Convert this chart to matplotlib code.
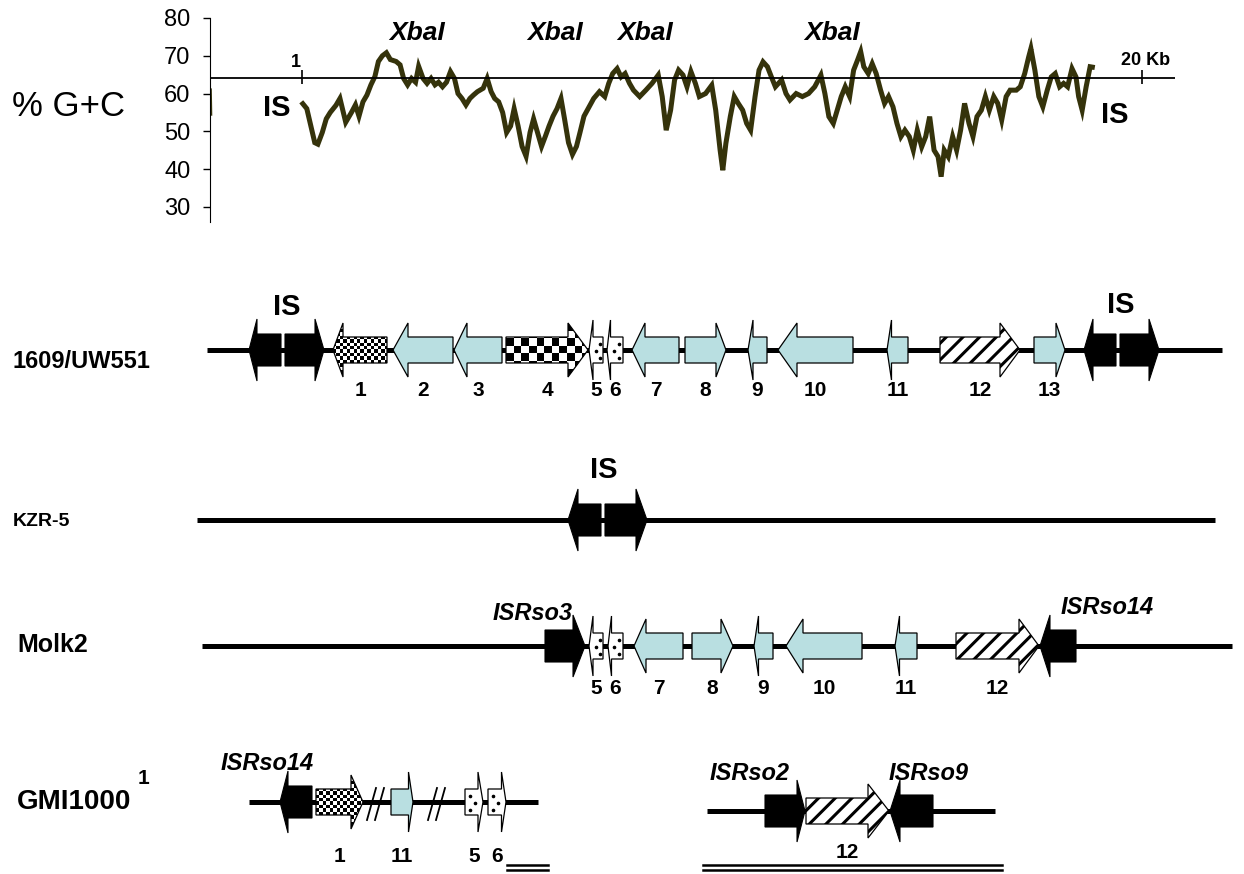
import numpy as np
import matplotlib
matplotlib.use('Agg')
import matplotlib.pyplot as plt
from matplotlib.patches import Polygon

plt.rcParams['font.family'] = ['Liberation Sans', 'DejaVu Sans']
plt.rcParams['hatch.linewidth'] = 2.2

# %G+C profile along the island (position in kb, %G+C)
gc_kb = [1.02, 1.11, 1.20, 1.29, 1.36, 1.46, 1.55, 1.64, 1.77, 1.86,
         1.99, 2.12, 2.21, 2.29, 2.38, 2.47, 2.56, 2.65, 2.73, 2.82,
         2.91, 3.00, 3.13, 3.22, 3.30, 3.39, 3.48, 3.57, 3.64, 3.74,
         3.83, 3.92, 4.01, 4.09, 4.18, 4.27, 4.36, 4.45, 4.53, 4.62,
         4.71, 4.80, 4.88, 4.97, 5.10, 5.19, 5.28, 5.36, 5.45, 5.54,
         5.63, 5.72, 5.80, 5.89, 5.98, 6.07, 6.16, 6.24, 6.33, 6.42,
         6.51, 6.59, 6.68, 6.77, 6.86, 6.94, 7.03, 7.12, 7.21, 7.29,
         7.38, 7.52, 7.60, 7.73,
         7.85, 7.94, 8.03, 8.13, 8.22, 8.31, 8.41, 8.50, 8.64, 8.78,
         8.92, 9.06, 9.15, 9.24, 9.34, 9.43, 9.52, 9.62, 9.71, 9.80,
         9.90, 9.99, 10.13, 10.27, 10.36, 10.46, 10.52, 10.59, 10.69, 10.78,
         10.87, 10.97, 11.06, 11.15, 11.25, 11.34, 11.43, 11.53, 11.62, 11.71,
         11.85, 11.95, 12.04, 12.18, 12.32, 12.46, 12.60, 12.74, 12.83, 12.92,
         13.02, 13.11, 13.20, 13.29, 13.39, 13.48, 13.57, 13.64, 13.71, 13.81,
         13.90, 13.99, 14.09, 14.18, 14.27, 14.37, 14.46, 14.55, 14.64, 14.74,
         14.83, 14.92, 15.02, 15.11, 15.20, 15.30, 15.39, 15.46, 15.53, 15.62,
         15.72, 15.81, 15.90, 15.99, 16.09, 16.18, 16.27, 16.37, 16.46, 16.55,
         16.65, 16.74, 16.83, 16.93, 17.02, 17.16, 17.25, 17.35, 17.44, 17.49,
         17.58, 17.67, 17.76, 17.86, 17.95, 18.04, 18.14, 18.23, 18.32, 18.42,
         18.51, 18.57, 18.65, 18.74, 18.83, 18.88]
gc_pct = [57.3, 56, 51.5, 47, 46.6, 49.7, 53.3, 55, 56.9, 58.7,
          52.4, 55, 57, 54, 57.8, 59.6, 62.3, 64.5, 68.5, 70,
          70.8, 69, 68.5, 67.6, 64, 62.3, 64, 63, 67.2, 64,
          62.7, 64, 62.3, 63, 61.8, 63, 65.8, 64, 60, 58.7,
          57, 58.7, 59.6, 60.5, 61.4, 64, 60.5, 58.7, 57.8, 55,
          49.7, 51.4, 56, 51.4, 46, 43.4, 49.7, 53.3, 49.7, 46,
          48.8, 51.4, 54, 56, 58.7, 53.3, 47, 43.9, 46, 49.7,
          54, 57, 58.7, 60.5,
          59.2, 62.7, 65.3, 66.6, 64.4, 65.3, 62.7, 60.9, 59.2, 60.9,
          62.7, 64.9, 59.2, 50.3, 55.6, 63.6, 66.2, 64.9, 61.8, 65.8,
          62.7, 59.2, 60, 62.2, 55.6, 45, 39.7, 46.8, 53.9, 59.2,
          57.4, 55.6, 52.1, 50.3, 59.2, 66.2, 68.4, 67.1, 64.4, 61.8,
          63.6, 60, 58.3, 60, 59.2, 60, 61.8, 64.9, 60, 53.9,
          52.1, 55.6, 59.2, 61.8, 59.2, 66.2, 68.9, 71.1, 67.1, 65.3,
          67.9, 65.3, 60.9, 57.4, 59.2, 56.5, 52.1, 48.6, 50.3, 48.6,
          45, 50.3, 45.9, 48.6, 53.9, 45, 43.3, 38, 45, 43.3,
          48.6, 45, 50.3, 57.4, 52.1, 48.6, 53.9, 55.6, 59.2, 55.6,
          59.2, 57.4, 53, 59.2, 60.9, 60.9, 61.8, 65.3, 69.7, 71.9,
          66.2, 59.2, 56.5, 60.9, 64.4, 65.3, 61.8, 62.7, 61.8, 66.6,
          64.4, 59.2, 55.6, 61.8, 67.1, 67]
# flanking chromosome stub at the left edge
gc_flank_kb = [-1.07, -1.065, -1.06]
gc_flank_pct = [61, 58, 54.5]

genome_mean = 64
xba_kb = [3.6, 6.72, 8.76, 13.0]

# gene maps: left/right end (map units), strand, arrow head length, fill
uw_label = ['', '', '1', '2', '3', '4', '5', '6', '7', '8', '9', '10', '11', '12', '13', '', '']
uw_left = [249, 285, 333, 393, 454, 506, 589, 607, 632, 685, 748, 778, 887, 940, 1034, 1084, 1120]
uw_right = [281, 324, 387, 453, 502, 588, 603, 623, 679, 726, 767, 853, 908, 1020, 1065, 1116, 1159]
uw_strand = [-1, 1, -1, -1, -1, 1, -1, -1, -1, 1, -1, -1, -1, 1, 1, -1, 1]
uw_head = [8, 9, 10, 15, 13, 20, 4, 3.5, 13, 10, 5, 19, 4.5, 20, 9, 9, 10]
uw_kind = ['is', 'is', 'fine', 'blue', 'blue', 'checker', 'dots', 'dots', 'blue', 'blue',
           'blue', 'blue', 'blue', 'hatch', 'blue', 'is', 'is']

kzr_label = ['', '']
kzr_left = [568, 605]
kzr_right = [601, 647]
kzr_strand = [-1, 1]
kzr_head = [10, 11]
kzr_kind = ['is', 'is']

molk_label = ['', '5', '6', '7', '8', '9', '10', '11', '12', '']
molk_left = [545, 589, 608, 634, 692, 754, 786, 895, 956, 1040]
molk_right = [585, 603, 623, 683, 733, 773, 862, 917, 1039, 1076]
molk_strand = [1, -1, -1, -1, 1, -1, -1, -1, 1, -1]
molk_head = [12, 4, 3.5, 12, 12, 4.5, 17, 4.5, 20, 10]
molk_kind = ['is', 'dots', 'dots', 'blue', 'blue', 'blue', 'blue', 'blue', 'hatch', 'is']

gmi_a_label = ['', '1', '11', '5', '6']
gmi_a_left = [280, 316, 391, 465, 488]
gmi_a_right = [312, 363, 413, 483, 506]
gmi_a_strand = [-1, 1, 1, 1, 1]
gmi_a_head = [8, 12, 4.5, 5, 4.5]
gmi_a_kind = ['is', 'fine', 'blue', 'dots', 'dots']
gmi_breaks = [367, 428]

gmi_b_label = ['', '12', '']
gmi_b_left = [765, 806, 890]
gmi_b_right = [805, 889, 933]
gmi_b_strand = [1, 1, -1]
gmi_b_head = [8, 21, 10]
gmi_b_kind = ['is', 'hatch', 'is']

BLUE = '#b9dfe1'
BODY = {'is': 16, 'std': 13, 'small': 13}
HEAD = {'is': 31, 'std': 27, 'small': 30}


def arrow_xy(left, right, strand, head, y, size):
    hb, hh = BODY[size], HEAD[size]
    tail, tip = (left, right) if strand > 0 else (right, left)
    base = tip - strand * head
    return [(tail, y - hb), (base, y - hb), (base, y - hh), (tip, y),
            (base, y + hh), (base, y + hb), (tail, y + hb)]


def checker_fill(ax, patch, cell):
    xy = patch.get_xy()
    x0, y0 = xy.min(axis=0)
    x1, y1 = xy.max(axis=0)
    nx = int(np.ceil((x1 - x0) / cell))
    ny = int(np.ceil((y1 - y0) / cell))
    board = np.indices((ny, nx)).sum(axis=0) % 2
    im = ax.imshow(board, cmap='gray', vmin=0, vmax=1, interpolation='nearest',
                   extent=(x0, x0 + nx * cell, y0 + ny * cell, y0),
                   aspect='auto', zorder=3)
    im.set_clip_path(patch)


def draw_row(ax, y, x0, x1, labels, left, right, strand, head, kind, label_dy):
    ax.plot([x0, x1], [y, y], color='k', lw=3.6, solid_capstyle='butt', zorder=1)
    for lab, l, r, s, h, k in zip(labels, left, right, strand, head, kind):
        size = 'is' if k == 'is' else ('small' if h < 6 else 'std')
        xy = arrow_xy(l, r, s, h, y, size)
        if k == 'is':
            ax.add_patch(Polygon(xy, closed=True, fc='k', ec='k', lw=0.8, zorder=2))
        elif k in ('fine', 'checker'):
            base = Polygon(xy, closed=True, fc='white', ec='none', zorder=2)
            ax.add_patch(base)
            checker_fill(ax, base, 3.4 if k == 'fine' else 7.6)
            ax.add_patch(Polygon(xy, closed=True, fill=False, ec='k', lw=0.9, zorder=4))
        elif k == 'hatch':
            ax.add_patch(Polygon(xy, closed=True, fc='white', ec='k', lw=0.9,
                                 hatch='//', zorder=2))
        else:
            fc = BLUE if k == 'blue' else 'white'
            ax.add_patch(Polygon(xy, closed=True, fc=fc, ec='k', lw=0.9, zorder=2))
            if k == 'dots':
                tail, tip = (l, r) if s > 0 else (r, l)
                bx = tip - s * h
                fx = np.array([0.35, 0.75, 0.35])
                fy = np.array([-0.5, 0.1, 0.6])
                ax.plot(tail + (bx - tail) * fx, y + fy * BODY[size], 'o',
                        color='k', ms=1.6, zorder=3)
        if lab:
            ax.text((l + r) / 2, y + label_dy, lab, ha='center', va='center',
                    fontsize=15, fontweight='bold')


fig = plt.figure(figsize=(12.44, 8.74), dpi=100)

# gene maps, drawn in map units
mp = fig.add_axes([0, 0, 1, 1])
mp.axis('off')

draw_row(mp, 350, 207, 1222, uw_label, uw_left, uw_right, uw_strand, uw_head, uw_kind, 40)
draw_row(mp, 520, 197, 1215, kzr_label, kzr_left, kzr_right, kzr_strand, kzr_head, kzr_kind, 40)
draw_row(mp, 646, 202, 1232, molk_label, molk_left, molk_right, molk_strand, molk_head, molk_kind, 42)
draw_row(mp, 802, 249, 538, gmi_a_label, gmi_a_left, gmi_a_right, gmi_a_strand, gmi_a_head, gmi_a_kind, 54)
draw_row(mp, 811, 707, 995, gmi_b_label, gmi_b_left, gmi_b_right, gmi_b_strand, gmi_b_head, gmi_b_kind, 42)

# break marks on the GMI1000 chromosome segment
for bx in gmi_breaks:
    for dx in (0, 8):
        mp.plot([bx + dx, bx + dx + 9], [820, 788], color='k', lw=1.3, zorder=5)

# sequence extent bars under GMI1000
for yy in (865, 870):
    mp.plot([507, 548], [yy, yy], color='k', lw=1.8)
    mp.plot([703, 1002], [yy, yy], color='k', lw=1.8)

# strain names
mp.text(12, 362, '1609/UW551', fontsize=17, fontweight='bold', va='center')
mp.text(13, 522, 'KZR-5', fontsize=14, fontweight='bold', va='center')
mp.text(17, 645, 'Molk2', fontsize=18, fontweight='bold', va='center')
mp.text(17, 802, 'GMI1000', fontsize=20, fontweight='bold', va='center')
mp.text(138, 778, '1', fontsize=15, fontweight='bold', va='center')

# insertion sequence labels
for x, y in [(287, 307), (1121, 305), (604, 470)]:
    mp.text(x, y, 'IS', fontsize=21, fontweight='bold', ha='center', va='center')
for x, y, name in [(533, 614, 'ISRso3'), (1107, 608, 'ISRso14'), (267, 763, 'ISRso14'),
                   (750, 773, 'ISRso2'), (929, 773, 'ISRso9')]:
    mp.text(x, y, name, fontsize=17, fontweight='bold', style='italic',
            ha='center', va='center')

mp.set_xlim(0, 1244)
mp.set_ylim(874, 0)

# %G+C profile
ax = fig.add_axes([210 / 1244, 1 - 222 / 874, 965 / 1244, 204 / 874])
ax.patch.set_alpha(0)
ax.plot(gc_kb, gc_pct, color='#35330b', lw=3.6, solid_joinstyle='miter')
ax.plot(gc_flank_kb, gc_flank_pct, color='#35330b', lw=2)
ax.axhline(genome_mean, color='k', lw=1.3)
ax.vlines([1, 20], 62.6, 66.3, color='k', lw=1.2)
ax.text(0.97, 66.0, '1', ha='right', va='bottom', fontsize=13, fontweight='bold')
ax.text(19.52, 66.6, '20 Kb', ha='left', va='bottom', fontsize=13, fontweight='bold')
for xk in xba_kb:
    ax.text(xk, 76, 'XbaI', ha='center', va='center', fontsize=19,
            fontweight='bold', style='italic')
ax.text(0.43, 56.2, 'IS', ha='center', va='center', fontsize=21, fontweight='bold')
ax.text(19.39, 54.3, 'IS', ha='center', va='center', fontsize=21, fontweight='bold')

ax.set_xlim(-1.08, 20.75)
ax.set_ylim(26, 80)
ax.set_yticks([30, 40, 50, 60, 70, 80])
ax.tick_params(axis='y', direction='out', length=5, width=1, pad=9, labelsize=17)
ax.set_xticks([])
for side in ('top', 'right', 'bottom'):
    ax.spines[side].set_visible(False)
ax.spines['left'].set_bounds(26, 80)

fig.text(12 / 1244, 1 - 106 / 874, '% G+C', fontsize=25, va='center')

fig.savefig('out.png', dpi=100)
